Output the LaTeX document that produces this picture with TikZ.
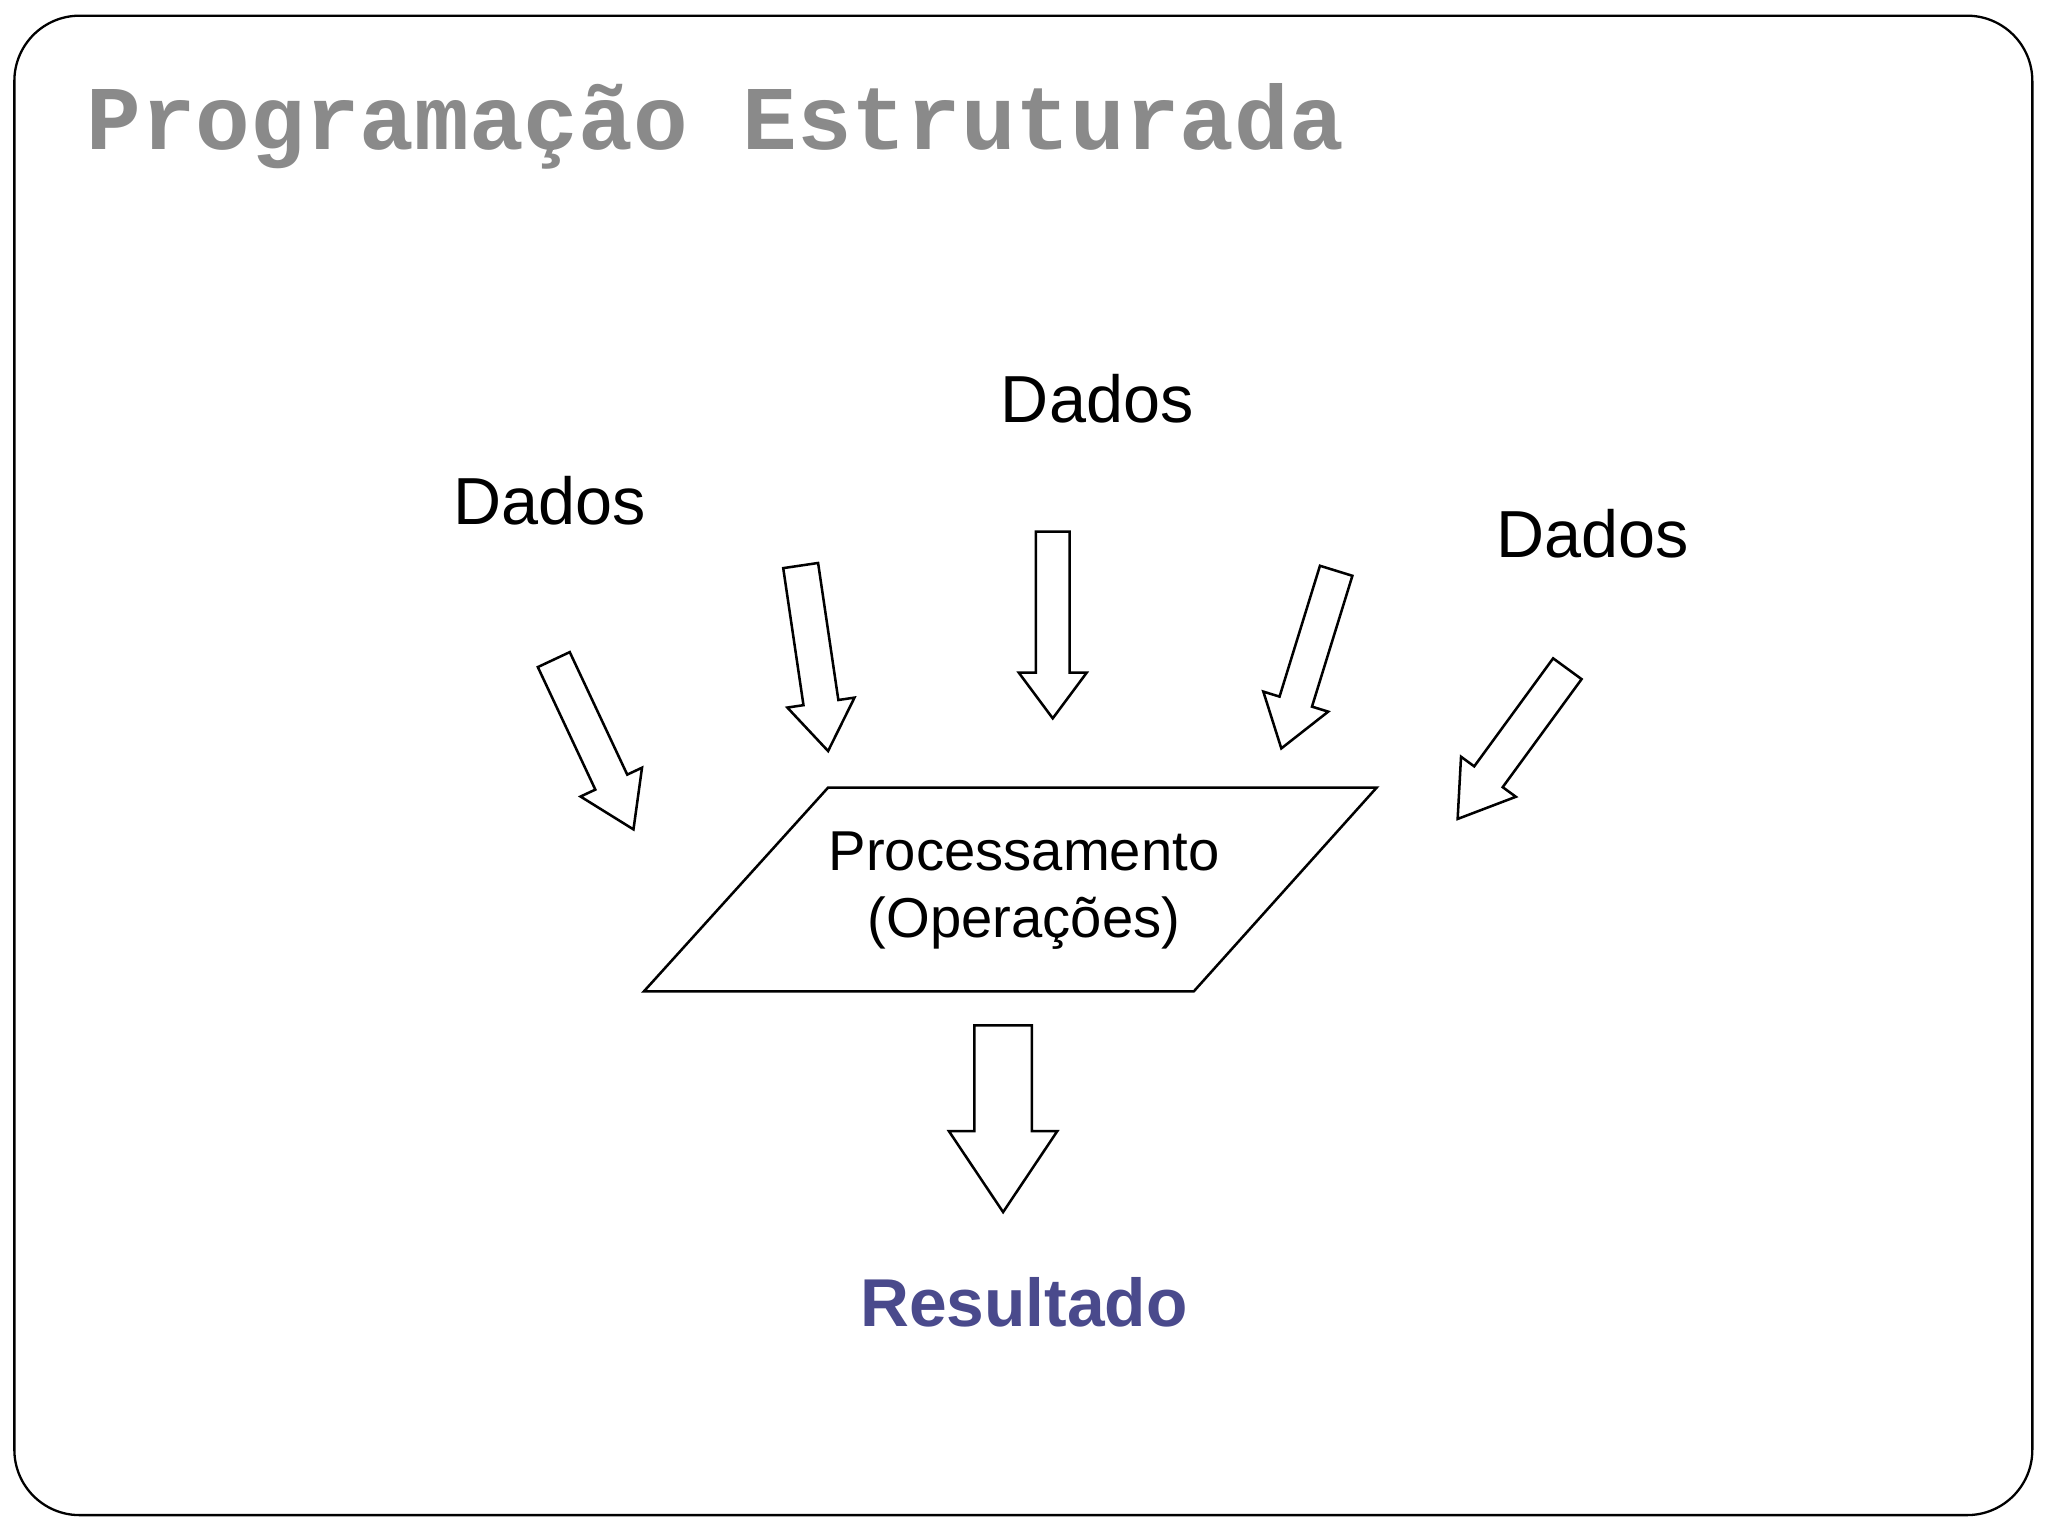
\documentclass[tikz,border=0pt]{standalone}
\usepackage{fontspec}
\setmainfont{Liberation Sans}
\newfontfamily\monof{Liberation Mono}
\usetikzlibrary{calc}
\definecolor{titlegray}{HTML}{8A8A8A}
\definecolor{resblue}{HTML}{4A4A8C}
\tikzset{blk/.style={draw=black,fill=white,line width=1.1pt,line join=miter}}
\newcommand\blockarrow[6]{% name, tail, tip, half shaft, half head, head length (cm)
 \coordinate (#1a) at #2; \coordinate (#1b) at #3;
 \coordinate (#1h) at ($(#1b)!#6!(#1a)$);
 \draw[blk] ($(#1a)!#4!90:(#1b)$) -- ($(#1h)!#4!-90:(#1a)$) -- ($(#1h)!#5!-90:(#1a)$) -- (#1b)
  -- ($(#1h)!#5!90:(#1a)$) -- ($(#1h)!#4!90:(#1a)$) -- ($(#1a)!#4!-90:(#1b)$) -- cycle;}
\begin{document}
\begin{tikzpicture}[x=0.02cm,y=-0.02cm]
\useasboundingbox (0,0) rectangle (1568,1176);
\draw[line width=1pt,rounded corners=1cm] (11,12) rectangle (1556,1160);
\node[anchor=west,text=titlegray,inner sep=0] (title) at (66,97) {\monof\bfseries\fontsize{39.7}{44}\selectfont Programação Estruturada};
\node[inner sep=0] (d1) at (421,383) {\fontsize{29}{34}\selectfont Dados};
\node[inner sep=0] (d2) at (840,305) {\fontsize{29}{34}\selectfont Dados};
\node[inner sep=0] (d3) at (1219,409) {\fontsize{29}{34}\selectfont Dados};
\blockarrow{a1}{(424,505)}{(485,635)}{0.27cm}{0.52cm}{0.8cm}
\blockarrow{a2}{(613,433)}{(634,575)}{0.27cm}{0.52cm}{0.75cm}
\blockarrow{a3}{(806,407)}{(806,550)}{0.26cm}{0.52cm}{0.7cm}
\blockarrow{a4}{(1023,437)}{(981,573)}{0.26cm}{0.52cm}{0.75cm}
\blockarrow{a5}{(1200,512)}{(1116,627)}{0.27cm}{0.52cm}{0.8cm}
\coordinate (p1) at (634,603); \coordinate (p2) at (1054,603);
\coordinate (p3) at (914,759); \coordinate (p4) at (493,759);
\draw[blk] (p1) -- (p2) -- (p3) -- (p4) -- cycle;
\node[align=center,inner sep=0,font=\fontsize{24.5}{29}\selectfont] (proc) at (784,682) {Processamento\\(Operações)};
\blockarrow{a6}{(768,785)}{(768,928)}{0.44cm}{0.83cm}{1.24cm}
\node[inner sep=0,text=resblue] (res) at (784,997) {\bfseries\fontsize{29.5}{34}\selectfont Resultado};
\end{tikzpicture}
\end{document}
